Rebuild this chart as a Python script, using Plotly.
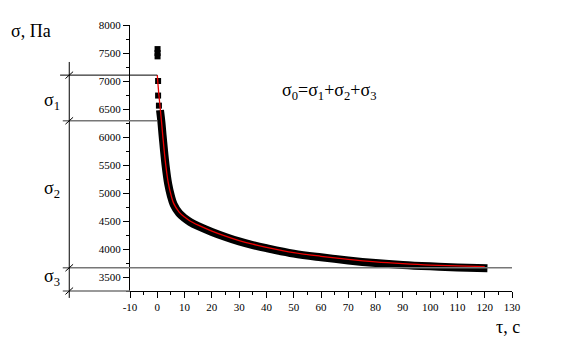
import plotly.graph_objects as go

# ---- data ----
fit_t = [0, 0.5, 1, 1.5, 2, 3, 4, 5, 6, 8, 10, 12, 15, 20, 25, 30, 35, 40, 50, 60, 70, 80, 90, 100, 110, 120]
fit_s = [7105, 6800, 6550, 6300, 6030, 5540, 5190, 4970, 4815, 4660, 4570, 4500, 4425, 4320, 4230, 4150,
         4085, 4030, 3935, 3870, 3815, 3770, 3738, 3713, 3697, 3685]

meas_t = [1, 1.5, 2, 3, 4, 5, 6, 8, 10, 12, 15, 20, 25, 30, 35, 40, 50, 60, 70, 80, 90, 100, 110, 121]
meas_s = [6480, 6270, 6000, 5510, 5160, 4945, 4795, 4640, 4550, 4482, 4408, 4305, 4215, 4135, 4070, 4015,
          3918, 3852, 3796, 3750, 3715, 3690, 3670, 3655]

spike_t = [0.1, 0.1, 0.1, 0.3, 0.3, 0.6]
spike_s = [7570, 7500, 7440, 7000, 6740, 6560]

sigma0 = 7105      # initial stress
sigma_23 = 6290    # sigma0 - sigma1
sigma_inf = 3665   # sigma3 level

x_ticks = list(range(-10, 131, 10))
y_ticks = list(range(3500, 8001, 500))

xmin, xmax = -10, 130
ymin, ymax = 3250, 8000

FONT = "Liberation Serif"

def yp(v):
    return (v - ymin) / (ymax - ymin)

def xp(v):
    return (v - xmin) / (xmax - xmin)

fig = go.Figure()
fig.add_trace(go.Scatter(x=meas_t, y=meas_s, mode="lines",
                         line=dict(color="black", width=8, shape="spline"),
                         showlegend=False, hoverinfo="skip"))
fig.add_trace(go.Scatter(x=spike_t, y=spike_s, mode="markers",
                         marker=dict(symbol="square", size=6, color="black", line=dict(width=0)),
                         showlegend=False, hoverinfo="skip"))
fig.add_trace(go.Scatter(x=fit_t, y=fit_s, mode="lines",
                         line=dict(color="#ee0000", width=1.3, shape="spline"),
                         showlegend=False, hoverinfo="skip"))

# bracket geometry (paper coords)
xl_vert = -0.159
xl_a = -0.183
xl_b = -0.176
x_t0 = xp(0)

shapes = []
shapes.append(dict(type="line", xref="paper", yref="paper", x0=xl_a, x1=x_t0,
                   y0=yp(sigma0), y1=yp(sigma0), line=dict(color="black", width=1)))
shapes.append(dict(type="line", xref="paper", yref="paper", x0=xl_b, x1=x_t0,
                   y0=yp(sigma_23), y1=yp(sigma_23), line=dict(color="#777777", width=1.5)))
shapes.append(dict(type="line", xref="paper", yref="paper", x0=xl_b, x1=1,
                   y0=yp(sigma_inf), y1=yp(sigma_inf), line=dict(color="#777777", width=1.5)))
shapes.append(dict(type="line", xref="paper", yref="paper", x0=xl_b, x1=0,
                   y0=0, y1=0, line=dict(color="#777777", width=1.5)))
shapes.append(dict(type="line", xref="paper", yref="paper", x0=xl_vert, x1=xl_vert,
                   y0=-0.026, y1=0.861, line=dict(color="black", width=1)))
# slash marks
for lv in [yp(sigma0), yp(sigma_23), yp(sigma_inf), 0]:
    shapes.append(dict(type="line", xref="paper", yref="paper",
                       x0=xl_vert - 0.010, x1=xl_vert + 0.010,
                       y0=lv - 0.013, y1=lv + 0.013, line=dict(color="black", width=1)))

ann_font = dict(family=FONT, size=18, color="black")

def ann(text, x, y):
    return dict(text=text, x=x, y=y, xref="paper", yref="paper", showarrow=False,
                xanchor="center", yanchor="middle", font=ann_font)

annotations = [
    ann("σ, Па", -0.258, 0.977),
    ann("σ<sub>1</sub>", -0.205, 0.712),
    ann("σ<sub>2</sub>", -0.205, 0.382),
    ann("σ<sub>3</sub>", -0.205, 0.052),
    ann("τ, c", 0.989, -0.137),
    ann("σ<sub>0</sub>=σ<sub>1</sub>+σ<sub>2</sub>+σ<sub>3</sub>", 0.522, 0.75),
]

fig.update_layout(
    width=570, height=354,
    margin=dict(l=130, r=58, t=25, b=63),
    paper_bgcolor="white", plot_bgcolor="white",
    font=dict(family=FONT, size=11, color="black"),
    shapes=shapes, annotations=annotations,
    xaxis=dict(range=[xmin, xmax], tickvals=x_ticks, ticktext=[str(v) for v in x_ticks],
               showgrid=False, zeroline=False, showline=True, linecolor="black", linewidth=1,
               ticks="outside", ticklen=6, tickcolor="black",
               minor=dict(dtick=5, ticks="outside", ticklen=3, tickcolor="black", showgrid=False),
               tickfont=dict(family=FONT, size=11, color="black")),
    yaxis=dict(range=[ymin, ymax], tickvals=y_ticks, ticktext=[str(v) for v in y_ticks],
               showgrid=False, zeroline=False, showline=True, linecolor="black", linewidth=1,
               ticks="outside", ticklen=6, tickcolor="black",
               minor=dict(tick0=3250, dtick=250, ticks="outside", ticklen=3, tickcolor="black", showgrid=False),
               tickfont=dict(family=FONT, size=11, color="black")),
)

fig.write_html("out.html")
